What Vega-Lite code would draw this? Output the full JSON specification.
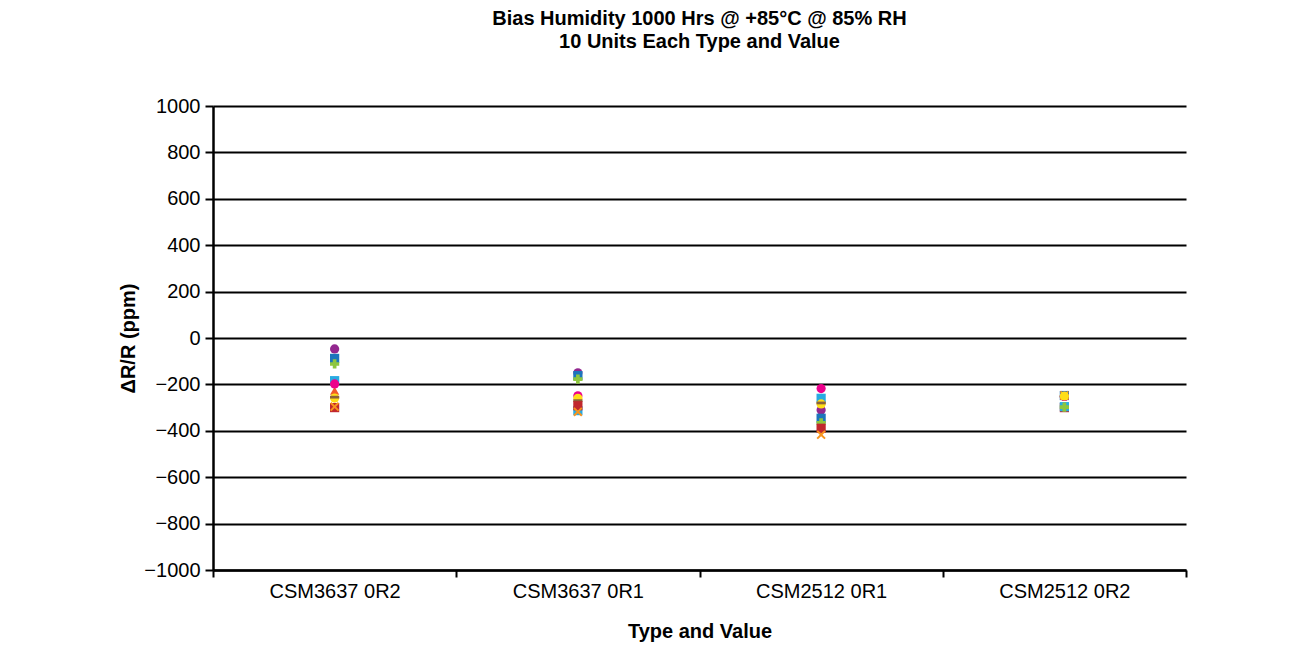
{
  "$schema": "https://vega.github.io/schema/vega-lite/v6.json",
  "autosize": {"type": "none"},
  "width": 973,
  "height": 464,
  "padding": {"left": 213, "top": 106, "right": 115, "bottom": 89},
  "background": "white",
  "config": {
    "font": "Liberation Sans",
    "view": {"stroke": null}
  },
  "title": {
    "text": ["Bias Humidity 1000 Hrs @ +85°C @ 85% RH", "10 Units Each Type and Value"],
    "fontSize": 20,
    "fontWeight": "bold",
    "lineHeight": 23,
    "color": "black",
    "anchor": "middle",
    "frame": "group",
    "offset": 44
  },
  "data": {
    "values": [
      {"type": "CSM3637 0R2", "unit": "S1", "dr": -47},
      {"type": "CSM3637 0R2", "unit": "S2", "dr": -88},
      {"type": "CSM3637 0R2", "unit": "S3", "dr": -112},
      {"type": "CSM3637 0R2", "unit": "S4", "dr": -227},
      {"type": "CSM3637 0R2", "unit": "S5", "dr": -184},
      {"type": "CSM3637 0R2", "unit": "S6", "dr": -198},
      {"type": "CSM3637 0R2", "unit": "S7", "dr": -259},
      {"type": "CSM3637 0R2", "unit": "S8", "dr": -255},
      {"type": "CSM3637 0R2", "unit": "S9", "dr": -300},
      {"type": "CSM3637 0R2", "unit": "S10", "dr": -296},
      {"type": "CSM3637 0R1", "unit": "S1", "dr": -150},
      {"type": "CSM3637 0R1", "unit": "S2", "dr": -162},
      {"type": "CSM3637 0R1", "unit": "S3", "dr": -177},
      {"type": "CSM3637 0R1", "unit": "S4", "dr": -285},
      {"type": "CSM3637 0R1", "unit": "S5", "dr": -313},
      {"type": "CSM3637 0R1", "unit": "S6", "dr": -249},
      {"type": "CSM3637 0R1", "unit": "S7", "dr": -260},
      {"type": "CSM3637 0R1", "unit": "S8", "dr": -270},
      {"type": "CSM3637 0R1", "unit": "S9", "dr": -292},
      {"type": "CSM3637 0R1", "unit": "S10", "dr": -318},
      {"type": "CSM2512 0R1", "unit": "S1", "dr": -310},
      {"type": "CSM2512 0R1", "unit": "S2", "dr": -346},
      {"type": "CSM2512 0R1", "unit": "S3", "dr": -366},
      {"type": "CSM2512 0R1", "unit": "S4", "dr": -266},
      {"type": "CSM2512 0R1", "unit": "S5", "dr": -260},
      {"type": "CSM2512 0R1", "unit": "S6", "dr": -218},
      {"type": "CSM2512 0R1", "unit": "S7", "dr": -284},
      {"type": "CSM2512 0R1", "unit": "S8", "dr": -280},
      {"type": "CSM2512 0R1", "unit": "S9", "dr": -389},
      {"type": "CSM2512 0R1", "unit": "S10", "dr": -417},
      {"type": "CSM2512 0R2", "unit": "S9", "dr": -300},
      {"type": "CSM2512 0R2", "unit": "S1", "dr": -252},
      {"type": "CSM2512 0R2", "unit": "S2", "dr": -248},
      {"type": "CSM2512 0R2", "unit": "S5", "dr": -296},
      {"type": "CSM2512 0R2", "unit": "S3", "dr": -298},
      {"type": "CSM2512 0R2", "unit": "S6", "dr": -252},
      {"type": "CSM2512 0R2", "unit": "S4", "dr": -250},
      {"type": "CSM2512 0R2", "unit": "S8", "dr": -252},
      {"type": "CSM2512 0R2", "unit": "S10", "dr": -247},
      {"type": "CSM2512 0R2", "unit": "S7", "dr": -250}
    ]
  },
  "mark": {"type": "point", "filled": true, "size": 85, "opacity": 1},
  "encoding": {
    "x": {
      "field": "type",
      "type": "nominal",
      "sort": ["CSM3637 0R2", "CSM3637 0R1", "CSM2512 0R1", "CSM2512 0R2"],
      "scale": {"paddingInner": 0, "paddingOuter": 0},
      "axis": {
        "title": "Type and Value",
        "titleFontSize": 20,
        "titleFontWeight": "bold",
        "titleColor": "black",
        "titlePadding": 20,
        "labelFontSize": 20,
        "labelColor": "black",
        "labelAngle": 0,
        "labelPadding": 4,
        "tickBand": "extent",
        "tickSize": 7,
        "tickColor": "black",
        "tickWidth": 2,
        "domainColor": "black",
        "domainWidth": 2.5,
        "grid": false
      }
    },
    "y": {
      "field": "dr",
      "type": "quantitative",
      "scale": {"domain": [-1000, 1000], "nice": false},
      "axis": {
        "title": "ΔR/R (ppm)",
        "titleFontSize": 20,
        "titleFontWeight": "bold",
        "titleColor": "black",
        "titlePadding": 5,
        "format": "d",
        "values": [-1000, -800, -600, -400, -200, 0, 200, 400, 600, 800, 1000],
        "labelFontSize": 20,
        "labelColor": "black",
        "labelPadding": 5,
        "tickSize": 8,
        "tickColor": "black",
        "tickWidth": 2,
        "domainColor": "black",
        "domainWidth": 2.5,
        "grid": true,
        "gridColor": "black",
        "gridWidth": 2,
        "gridOpacity": 1
      }
    },
    "shape": {
      "field": "unit",
      "type": "nominal",
      "legend": null,
      "scale": {
        "domain": ["S1", "S2", "S3", "S4", "S5", "S6", "S7", "S8", "S9", "S10"],
        "range": ["circle", "square", "cross", "triangle-up", "square", "circle", "circle", "M-1,-0.3H1V0.3H-1Z", "square", "M-1,-0.7L-0.7,-1L0,-0.3L0.7,-1L1,-0.7L0.3,0L1,0.7L0.7,1L0,0.3L-0.7,1L-1,0.7L-0.3,0Z"]
      }
    },
    "color": {
      "field": "unit",
      "type": "nominal",
      "legend": null,
      "scale": {
        "domain": ["S1", "S2", "S3", "S4", "S5", "S6", "S7", "S8", "S9", "S10"],
        "range": ["#93278F", "#1C75BC", "#8DC63F", "#F15A29", "#29ABE2", "#EC008C", "#FFDE17", "#8C6239", "#C1272D", "#F7941D"]
      }
    }
  }
}
